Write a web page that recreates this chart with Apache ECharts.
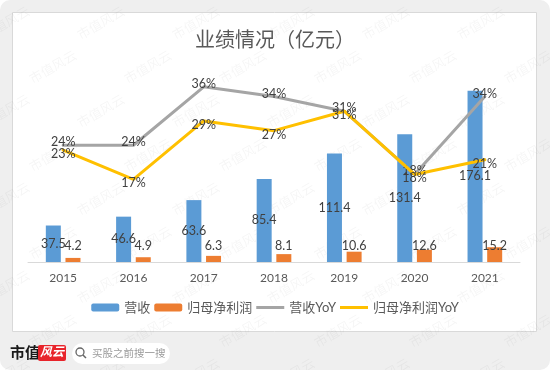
<!DOCTYPE html>
<html>
<head>
<meta charset="utf-8">
<script src="https://cdn.jsdelivr.net/npm/echarts@6/dist/echarts.min.js"></script>
<style>
html,body{margin:0;padding:0;background:#ffffff;}
#c{width:550px;height:370px;}
</style>
</head>
<body>
<div id="c"></div>
<script>
const years = ['2015','2016','2017','2018','2019','2020','2021'];
const revenue = [37.5, 46.6, 63.6, 85.4, 111.4, 131.4, 176.1];
const netProfit = [4.2, 4.9, 6.3, 8.1, 10.6, 12.6, 15.2];
const revenueYoY = [24, 24, 36, 34, 31, 18, 34];
const profitYoY = [23, 17, 29, 27, 31, 18, 21];
const names = ['营收', '归母净利润', '营收YoY', '归母净利润YoY'];

const FONT = "Lato, 'Noto Sans CJK SC', sans-serif";
const chart = echarts.init(document.getElementById('c'), null, {renderer: 'canvas'});

const graphics = [
  {type: 'rect', z: -20, shape: {x: 0, y: 0, width: 550, height: 370, r: 10}, style: {fill: '#efefef'}},
  {type: 'rect', z: -19, shape: {x: 12.5, y: 12.5, width: 524, height: 319}, style: {fill: '#ffffff', stroke: '#d9d9d9', lineWidth: 1}},
  {type: 'text', z: 5, left: 10, top: 345, style: {text: '市值', fill: '#1a1a1a', font: "bold 15px 'Noto Sans CJK SC'"}},
  {type: 'rect', z: 5, shape: {x: 38, y: 345, width: 28, height: 16, r: 2}, style: {fill: '#e8242b'}},
  {type: 'text', z: 6, left: 40, top: 345, style: {text: '风云', fill: '#ffffff', font: "italic bold 12px 'Noto Sans CJK SC'"}},
  {type: 'rect', z: 5, shape: {x: 72, y: 343, width: 98, height: 21, r: 10.5}, style: {fill: '#ffffff'}},
  {type: 'circle', z: 6, shape: {cx: 80, cy: 352, r: 4}, style: {fill: 'none', stroke: '#666', lineWidth: 1.3}},
  {type: 'line', z: 6, shape: {x1: 83, y1: 355, x2: 86, y2: 358}, style: {stroke: '#666', lineWidth: 1.5}},
  {type: 'text', z: 6, left: 92, top: 348, style: {text: '买股之前搜一搜', fill: '#9a9a9a', font: "10.5px 'Noto Sans CJK SC'"}}
];
for (let r = 0; r < 9; r++) {
  for (let k = 0; k < 7; k++) {
    graphics.push({
      type: 'text', z: -5, silent: true,
      x: k * 95 + (r % 2) * 47 - 20, y: r * 44 + 30,
      rotation: Math.PI / 6,
      style: {text: '市值风云', fill: 'rgba(0,0,0,0.04)', font: "13px 'Noto Sans CJK SC'"}
    });
  }
}

chart.setOption({
  animation: false,
  backgroundColor: 'transparent',
  title: {
    text: '业绩情况（亿元）', left: 'center', top: 24,
    textStyle: {fontFamily: "'Noto Sans CJK SC'", fontSize: 20, fontWeight: 'normal', color: '#595959'}
  },
  graphic: graphics,
  legend: {
    bottom: 51, left: 'center', itemWidth: 28, itemHeight: 8, itemGap: 4,
    textStyle: {fontFamily: FONT, fontSize: 13, color: '#595959'},
    data: [
      {name: names[0]},
      {name: names[1]},
      {name: names[2], icon: 'path://M0,0 L28,0 L28,3 L0,3 Z'},
      {name: names[3], icon: 'path://M0,0 L28,0 L28,3 L0,3 Z'}
    ]
  },
  grid: {left: 28, right: 30, top: 67.4, bottom: 108, containLabel: false},
  xAxis: {
    type: 'category', data: years,
    axisLine: {lineStyle: {color: '#d9d9d9', width: 1}},
    axisTick: {show: false},
    axisLabel: {color: '#595959', fontSize: 12, fontFamily: FONT, margin: 10}
  },
  yAxis: [
    {type: 'value', min: 0, max: 200, show: false, splitLine: {show: false}},
    {type: 'value', min: 0, max: 40, show: false, splitLine: {show: false}}
  ],
  series: [
    {
      name: names[0], type: 'bar', data: revenue, barWidth: 15, barGap: '31%',
      itemStyle: {color: '#5b9bd5'},
      label: {show: true, position: 'inside', color: '#404040', fontSize: 12.5, fontFamily: FONT}
    },
    {
      name: names[1], type: 'bar', data: netProfit, barWidth: 15,
      itemStyle: {color: '#ed7d31'},
      label: {show: true, position: 'insideBottom', distance: 10, color: '#404040', fontSize: 12.5, fontFamily: FONT}
    },
    {
      name: names[2], type: 'line', yAxisIndex: 1, data: revenueYoY, z: 3,
      symbol: 'circle', symbolSize: 2, lineStyle: {color: '#a5a5a5', width: 3, cap: 'round', join: 'round'},
      itemStyle: {color: '#a5a5a5'},
      label: {show: true, position: 'inside', offset: [0, -3], color: '#404040', fontSize: 12.5, fontFamily: FONT,
        formatter: p => Math.round(p.value) + '%'}
    },
    {
      name: names[3], type: 'line', yAxisIndex: 1, data: profitYoY, z: 4,
      symbol: 'circle', symbolSize: 2, lineStyle: {color: '#ffc000', width: 3, cap: 'round', join: 'round'},
      itemStyle: {color: '#ffc000'},
      label: {show: true, position: 'inside', offset: [0, 4], color: '#404040', fontSize: 12.5, fontFamily: FONT,
        formatter: p => Math.round(p.value) + '%'}
    }
  ]
});
</script>
</body>
</html>
